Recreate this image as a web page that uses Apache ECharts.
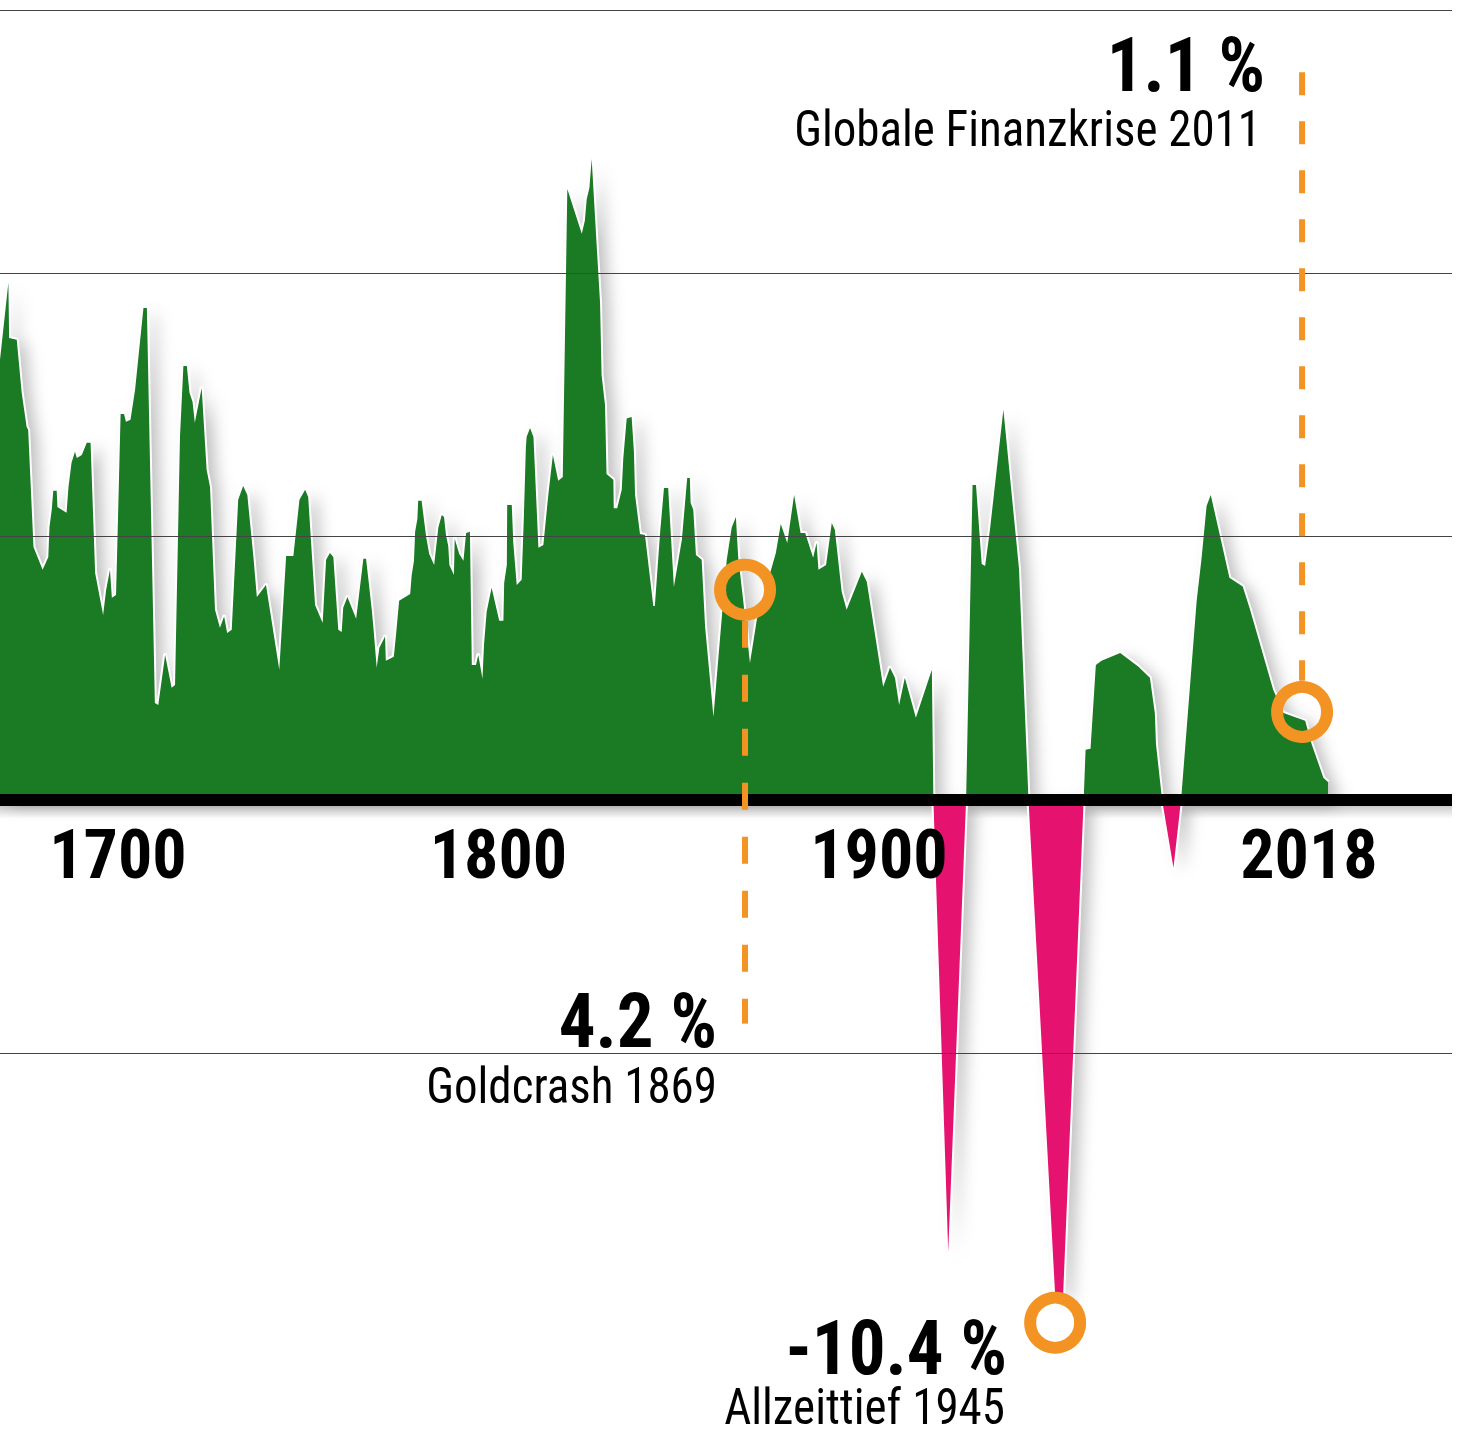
<!DOCTYPE html>
<html><head><meta charset="utf-8">
<script src="https://cdn.jsdelivr.net/npm/echarts@6.0.0/dist/echarts.min.js"></script>
<style>html,body{margin:0;padding:0;background:#fff}#c{width:1458px;height:1437px}</style>
</head><body><div id="c"></div>
<script>
// ---- data ----
const years = [1669.0,1671.2,1671.4,1673.4,1674.7,1676.0,1676.4,1677.8,1680.2,1681.7,1682.0,1682.6,1683.0,1683.9,1684.1,1686.5,1687.0,1687.8,1688.7,1689.2,1690.5,1691.8,1692.8,1694.0,1696.1,1696.9,1697.9,1698.4,1699.5,1700.7,1701.6,1702.1,1703.3,1704.5,1706.7,1707.6,1709.7,1710.6,1712.4,1714.1,1715.0,1716.3,1717.2,1718.1,1718.8,1719.6,1720.2,1722.0,1723.3,1724.2,1725.5,1726.8,1727.9,1728.7,1729.9,1731.6,1732.9,1734.0,1735.6,1736.5,1738.9,1742.4,1744.2,1746.1,1747.7,1749.2,1750.0,1751.8,1753.8,1754.7,1755.7,1756.6,1757.9,1758.8,1759.2,1760.3,1762.6,1764.5,1765.2,1765.8,1766.7,1767.1,1768.0,1768.7,1770.2,1770.4,1772.5,1773.1,1773.9,1776.8,1777.2,1777.8,1778.1,1778.7,1778.9,1779.8,1781.0,1781.8,1783.1,1784.2,1785.1,1785.7,1786.2,1786.8,1787.1,1788.3,1788.5,1789.7,1790.8,1791.5,1792.5,1793.0,1794.1,1794.7,1795.8,1796.2,1796.9,1798.2,1800.2,1801.3,1801.5,1802.2,1802.3,1803.5,1803.9,1804.8,1806.1,1806.7,1807.2,1807.4,1808.3,1809.2,1810.5,1811.8,1813.1,1814.3,1815.7,1816.9,1817.5,1818.1,1821.9,1822.7,1823.2,1823.9,1824.5,1825.8,1826.7,1827.1,1828.0,1828.4,1830.2,1830.3,1831.2,1832.4,1832.8,1833.7,1835.0,1835.6,1835.9,1837.2,1838.5,1840.7,1841.1,1842.5,1843.5,1844.6,1846.1,1848.2,1849.6,1850.3,1850.5,1851.2,1851.9,1853.4,1854.3,1856.5,1858.2,1860.0,1861.3,1862.4,1863.0,1864.3,1866.1,1867.9,1872.9,1874.2,1875.9,1877.7,1879.4,1880.6,1882.7,1883.6,1884.1,1886.1,1887.6,1888.4,1890.2,1891.5,1895.5,1896.8,1901.1,1902.9,1904.2,1905.3,1906.8,1909.7,1913.9,1914.3,1918.2,1922.9,1924.6,1925.5,1927.0,1927.9,1929.2,1932.7,1936.8,1939.3,1946.3,1948.4,1953.8,1954.3,1955.6,1957.0,1958.5,1963.4,1968.2,1971.2,1972.5,1972.8,1974.4,1977.4,1979.4,1983.5,1984.8,1986.1,1987.2,1992.1,1995.6,1997.5,2003.6,2006.3,2012.0,2013.7,2016.8,2018.0];
const values = [8.36,9.82,8.77,8.74,7.73,7.08,7.03,4.80,4.37,4.61,5.18,5.51,5.87,5.87,5.56,5.45,5.94,6.40,6.61,6.49,6.55,6.78,6.78,4.31,3.51,3.99,4.37,3.84,3.89,7.33,7.33,7.18,7.22,7.79,9.34,9.34,1.84,1.80,2.75,2.13,2.18,6.89,8.24,8.24,7.73,7.56,7.16,7.82,6.27,5.94,3.61,3.27,3.48,3.17,3.23,5.70,5.96,5.79,4.61,3.85,4.08,2.47,4.63,4.63,5.70,5.89,5.75,3.70,3.36,4.56,4.69,4.61,3.23,3.19,3.65,3.85,3.44,4.58,4.58,4.20,3.61,3.30,2.51,2.89,3.10,2.64,2.72,3.15,3.78,3.91,4.27,4.54,5.09,5.34,5.68,5.68,4.99,4.67,4.46,5.17,5.41,5.37,5.03,4.82,4.46,4.27,4.96,4.67,4.54,5.07,5.09,2.56,2.56,2.75,2.30,2.94,3.57,4.03,3.40,3.40,4.12,4.46,5.60,5.60,4.88,4.08,4.18,5.43,6.68,6.89,7.06,6.89,4.79,4.84,5.79,6.55,6.06,6.13,8.89,11.60,10.75,11.00,11.41,11.62,12.17,10.54,9.44,8.07,7.50,6.19,6.08,5.54,5.54,5.89,6.48,7.24,7.27,6.61,5.79,5.05,5.03,3.68,3.68,5.09,5.92,5.92,4.04,4.94,6.11,6.11,5.64,5.51,4.65,4.56,3.29,1.58,3.04,4.56,5.17,5.37,4.61,3.80,2.60,3.42,4.69,5.24,4.88,5.79,5.07,5.07,4.60,4.88,4.37,4.46,5.26,5.13,3.95,3.61,4.33,4.14,2.15,2.51,2.32,1.80,2.32,1.56,2.47,0,-8.58,0,5.98,5.98,4.48,4.44,5.15,7.41,4.39,0,-9.40,-9.40,0,0.95,0.97,2.56,2.64,2.79,2.53,2.32,1.65,1.06,0,-1.29,0,3.78,4.60,5.58,5.79,4.22,4.05,3.62,2.09,1.65,1.50,1.06,0.42,0.34];

const axisYears = [1700, 1800, 1900, 2018];
const gridValues = [15, 10, 5, -4.82];
const yMin = -12.1, yMax = 15;

// annotation markers (position as drawn in the picture)
const annoYears  = [1864.8, 1946.3, 2011.2];
const annoValues = [3.99, -9.93, 1.67];
const annoTitles = ['4.2 %', '-10.4 %', '1.1 %'];
const annoSubtitles = ['Goldcrash 1869', 'Allzeittief 1945', 'Globale Finanzkrise 2011'];
// dashed leader lines
const leaderYears = [1864.8, 2011.2];
const leaderFrom  = [3.40, 13.82];
const leaderTo    = [-4.25, 2.26];

// ---- layout & styling ----
const W = 1458, H = 1437, GRID_TOP = 10, GRID_BOTTOM = 0;
const plotH = H - GRID_TOP - GRID_BOTTOM;
// put the x axis labels on the zero line (offset from the bottom edge of the grid)
const zeroOffset = -(plotH * (0 - yMin) / (yMax - yMin));

const FONT = "'Liberation Sans Narrow','Roboto Condensed','DejaVu Sans Condensed',sans-serif";
const GREEN = '#1b7a24', MAGENTA = '#e5136f', ORANGE = '#f39323';

const full = years.map((y, i) => [y, values[i]]);
const pos = years.map((y, i) => [y, Math.max(values[i], 0)]);
const neg = years.map((y, i) => [y, Math.min(values[i], 0)]);

const shadow = {shadowColor: 'rgba(0,0,0,0.26)', shadowBlur: 16, shadowOffsetX: 9, shadowOffsetY: 5};
const noLine = {opacity: 0, width: 0};

function areaLayer(data, color, z, withShadow, extra) {
  return Object.assign({
    type: 'line', z: z, data: data, symbol: 'none', showSymbol: false, silent: true,
    lineStyle: noLine,
    areaStyle: Object.assign({color: color, opacity: 1}, withShadow ? shadow : {})
  }, extra || {});
}

const leaderSeries = leaderYears.map((yr, i) => ({
  type: 'line', z: 12, silent: true, symbol: 'none',
  data: [[yr, leaderFrom[i]], [yr, leaderTo[i]]],
  lineStyle: {color: ORANGE, width: 6, type: i === 0 ? [27, 27] : [23, 26], cap: 'butt'}
}));

// text anchors (layout): right edge x, vertical centre y
const titlePos = [[717, 1021], [1007, 1348], [1265, 65]];
const subPos   = [[717, 1086], [1005, 1407], [1261, 129]];
const graphics = [];
annoTitles.forEach((t, i) => {
  graphics.push({type: 'text', x: titlePos[i][0], y: titlePos[i][1], scaleX: 0.96, silent: true, z: 20,
    style: {text: t, fill: '#000', fontFamily: FONT, fontWeight: 'bold', fontSize: 76, lineHeight: 76, align: 'right', verticalAlign: 'middle'}});
  graphics.push({type: 'text', x: subPos[i][0], y: subPos[i][1], scaleX: 0.94, silent: true, z: 20,
    style: {text: annoSubtitles[i], fill: '#000', fontFamily: FONT, fontWeight: 'normal', fontSize: 50, lineHeight: 50, align: 'right', verticalAlign: 'middle'}});
});

const labelStyle = {fontFamily: FONT, fontWeight: 'bold', fontSize: 68, color: '#000'};

const chart = echarts.init(document.getElementById('c'), null, {renderer: 'svg'});
chart.setOption({
  animation: false,
  backgroundColor: '#fff',
  grid: {left: 0, right: 6, top: GRID_TOP, bottom: GRID_BOTTOM, containLabel: false, outerBoundsMode: 'none'},
  xAxis: {
    type: 'value', min: 1669, max: 2050.6, z: 10, position: 'bottom', offset: zeroOffset,
    axisLine: {show: false, onZero: false},
    axisTick: {show: false},
    splitLine: {show: false},
    axisLabel: {
      customValues: axisYears, margin: 21, hideOverlap: false,
      formatter: v => (v === 2018 ? '{s|' + v + '}' : '{a|' + v + '}'),
      rich: {a: labelStyle, s: Object.assign({}, labelStyle, {padding: [0, 38, 0, 0]})}
    }
  },
  yAxis: {type: 'value', min: yMin, max: yMax, show: true,
    axisLine: {show: false, onZero: false}, axisTick: {show: false}, axisLabel: {show: false}, splitLine: {show: false}},
  series: [
    areaLayer(pos, GREEN, 1, true),
    areaLayer(neg, MAGENTA, 1, true, {
      // soft shadow under the zero line (hidden behind the fills)
      markArea: {silent: true, animation: false, label: {show: false},
        itemStyle: {color: {type: 'linear', x: 0, y: 0, x2: 0, y2: 1,
          colorStops: [{offset: 0, color: 'rgba(0,0,0,0.30)'}, {offset: 1, color: 'rgba(0,0,0,0)'}]}},
        data: [[{yAxis: 0}, {yAxis: -0.36}]]}}),
    {type: 'line', z: 2, data: full, symbol: 'none', showSymbol: false, silent: true,
     lineStyle: {color: '#fff', width: 4, join: 'round'}},
    areaLayer(pos, GREEN, 3, false),
    areaLayer(neg, MAGENTA, 3, false, {
      markLine: {silent: true, symbol: ['none', 'none'], label: {show: false}, animation: false,
        lineStyle: {type: 'solid', color: '#444', width: 1.2},
        data: gridValues.map(v => ({yAxis: v}))}}),
    // zero line (thick black baseline)
    {type: 'line', z: 11, data: full, symbol: 'none', showSymbol: false, silent: true,
     lineStyle: {opacity: 0, width: 0},
     markLine: {silent: true, symbol: ['none', 'none'], label: {show: false}, animation: false,
       lineStyle: {type: 'solid', color: '#000', width: 12, opacity: 1},
       data: [{yAxis: 0}]}},
    ...leaderSeries,
    {type: 'scatter', z: 13, silent: true, symbol: 'circle', symbolSize: 50,
     data: annoYears.map((y, i) => [y, annoValues[i]]),
     itemStyle: {color: 'rgba(0,0,0,0)', borderColor: ORANGE, borderWidth: 12, opacity: 1}}
  ],
  graphic: graphics
});
</script></body></html>
